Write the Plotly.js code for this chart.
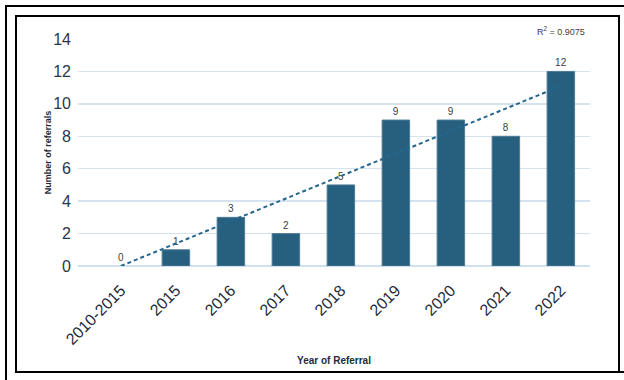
<!DOCTYPE html>
<html>
<head>
<meta charset="utf-8">
<script src="https://cdn.plot.ly/plotly-3.0.1.min.js"></script>
<style>
  html, body { margin: 0; padding: 0; background: #fff; }
  #wrap { position: relative; width: 624px; height: 380px; overflow: hidden; }
  #chart { position: absolute; left: 0; top: 0; width: 624px; height: 380px; }
  .b { position: absolute; background: #000; pointer-events: none; }
</style>
</head>
<body>
<div id="wrap">
  <div id="chart"></div>
  <div class="b" style="left:5px; top:5px; width:619px; height:2px;"></div>
  <div class="b" style="left:5px; top:5px; width:2px; height:375px;"></div>
  <div class="b" style="left:15px; top:15px; width:605px; height:2px;"></div>
  <div class="b" style="left:15px; top:15px; width:2px; height:358px;"></div>
  <div class="b" style="left:618px; top:15px; width:2px; height:358px;"></div>
  <div class="b" style="left:15px; top:371px; width:609px; height:2px;"></div>
</div>
<script>
const categories = ['2010-2015', '2015', '2016', '2017', '2018', '2019', '2020', '2021', '2022'];
const referrals = [0, 1, 3, 2, 5, 9, 9, 8, 12];
const trendX = ['2010-2015', '2022'];
const trendY = [0, 11.1];
const rSquared = '0.9075';
const yTicks = [0, 2, 4, 6, 8, 10, 12, 14];

const bars = {
  type: 'bar',
  x: categories,
  y: referrals,
  width: 0.5,
  marker: { color: '#27607f', line: { color: '#4d7b96', width: referrals.map(v => v ? 1 : 0) } },
  text: referrals.map(String),
  textposition: 'outside',
  textfont: { family: 'Liberation Sans, Arial, sans-serif', size: 10, color: '#404040' },
  cliponaxis: false,
  hoverinfo: 'skip'
};

const trend = {
  type: 'scatter',
  mode: 'lines',
  x: trendX,
  y: trendY,
  line: { color: '#24668c', width: 2, dash: '4px,3px' },
  hoverinfo: 'skip'
};

const layout = {
  width: 624,
  height: 380,
  margin: { l: 78, r: 34, t: 39, b: 114 },
  paper_bgcolor: 'rgba(0,0,0,0)',
  plot_bgcolor: '#fff',
  showlegend: false,
  bargap: 0.5,
  xaxis: {
    type: 'category',
    range: [-0.78, 8.53],
    tickangle: -45,
    tickfont: { family: 'Liberation Sans, Arial, sans-serif', size: 16, color: '#1e2a3a' },
    showgrid: false,
    zeroline: false,
    showline: false,
    ticks: '',
    ticklabelstandoff: 11,
    title: {
      text: '<b>Year of Referral</b>',
      font: { family: 'Liberation Sans, Arial, sans-serif', size: 10, color: '#1e2a3a' },
      standoff: 10
    },
    automargin: false
  },
  yaxis: {
    range: [0, 14],
    tickvals: yTicks,
    ticktext: yTicks.map(String),
    tickfont: { family: 'Liberation Sans, Arial, sans-serif', size: 16, color: '#2b3644' },
    showgrid: true,
    gridcolor: '#d5e3f0',
    gridwidth: 1.5,
    zeroline: true,
    zerolinecolor: '#cfe0ef',
    zerolinewidth: 1.5,
    showline: false,
    ticks: '',
    ticklabelstandoff: 6,
    title: {
      text: '<b>Number of referrals</b>',
      font: { family: 'Liberation Sans, Arial, sans-serif', size: 9, color: '#1e2a3a' },
      standoff: 0
    },
    automargin: false
  },
  annotations: [{
    xref: 'paper', yref: 'paper',
    x: 0.995, y: 1.0,
    xanchor: 'right', yanchor: 'bottom',
    text: 'R<sup>2</sup> = ' + rSquared,
    showarrow: false,
    font: { family: 'Liberation Sans, Arial, sans-serif', size: 9, color: '#404040' }
  }]
};

Plotly.newPlot('chart', [bars, trend], layout, { displayModeBar: false, staticPlot: true });
</script>
</body>
</html>
